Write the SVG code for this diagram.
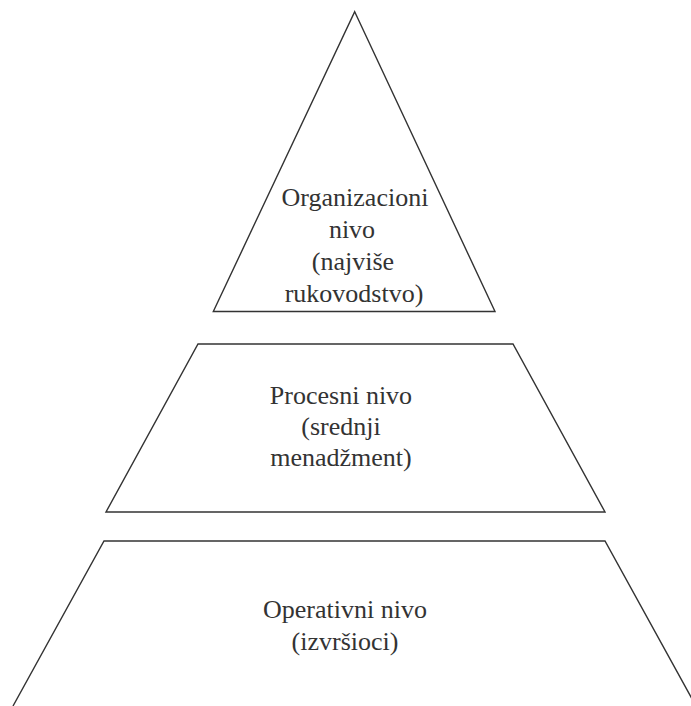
<svg xmlns="http://www.w3.org/2000/svg" width="691" height="706" viewBox="0 0 691 706">
  <style>
    .tier { fill: #ffffff; stroke: #333333; stroke-width: 1.4; stroke-linejoin: miter; }
    .label { font-family: "Liberation Serif", "Times New Roman", serif; font-size: 26px; fill: #333333; text-anchor: middle; }
  </style>
  <rect width="691" height="706" fill="#ffffff"/>

  <!-- Top tier: organizational level -->
  <g id="organizacioni">
    <polygon class="tier" points="354.7,11.7 495,311.5 213.3,311.5"/>
    <text class="label" x="355" y="206">Organizacioni</text>
    <text class="label" x="352" y="238">nivo</text>
    <text class="label" x="353" y="270">(najviše</text>
    <text class="label" x="354" y="302">rukovodstvo)</text>
  </g>

  <!-- Middle tier: process level -->
  <g id="procesni">
    <polygon class="tier" points="198,344 513,344 605,512 106,512"/>
    <text class="label" x="341" y="404">Procesni nivo</text>
    <text class="label" x="341" y="435">(srednji</text>
    <text class="label" x="341" y="466">menadžment)</text>
  </g>

  <!-- Bottom tier: operational level -->
  <g id="operativni">
    <polyline class="tier" points="13,706 104,541 605,541 696,706"/>
    <text class="label" x="345" y="618">Operativni nivo</text>
    <text class="label" x="345" y="650">(izvršioci)</text>
  </g>

  <g id="connectors"/>
</svg>
